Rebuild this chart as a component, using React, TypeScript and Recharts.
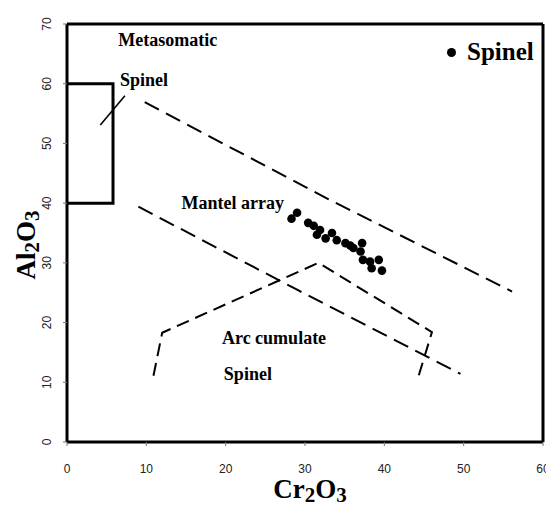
import React from 'react';
import { ScatterChart, Scatter, XAxis, YAxis, ReferenceLine, Legend } from 'recharts';

const xTicks = [0, 10, 20, 30, 40, 50, 60];
const yTicks = [0, 10, 20, 30, 40, 50, 60, 70];

const spinel = [
  { x: 28.3, y: 37.4 }, { x: 29.0, y: 38.4 }, { x: 30.4, y: 36.7 }, { x: 31.1, y: 36.2 },
  { x: 31.9, y: 35.5 }, { x: 31.5, y: 34.7 }, { x: 32.6, y: 34.1 }, { x: 33.4, y: 35.0 },
  { x: 34.0, y: 33.8 }, { x: 35.1, y: 33.3 }, { x: 35.7, y: 32.9 }, { x: 36.1, y: 32.5 },
  { x: 37.2, y: 33.3 }, { x: 37.0, y: 31.9 }, { x: 37.3, y: 30.5 }, { x: 38.2, y: 30.2 },
  { x: 38.4, y: 29.1 }, { x: 39.3, y: 30.5 }, { x: 39.7, y: 28.7 },
];

const upperMantle = [{ x: 9.8, y: 56.9 }, { x: 33.2, y: 40.5 }, { x: 56.1, y: 25.2 }];
const lowerMantle = [{ x: 9.0, y: 39.4 }, { x: 29.0, y: 25.5 }, { x: 49.6, y: 11.4 }];
const arcField = [
  { x: 10.9, y: 11.1 }, { x: 12.0, y: 18.3 }, { x: 31.7, y: 30.0 }, { x: 46.0, y: 18.4 }, { x: 44.1, y: 10.1 },
];
const metaBox = [{ x: 0, y: 60 }, { x: 5.8, y: 60 }, { x: 5.8, y: 40 }, { x: 0, y: 40 }];
const metaSlash = [{ x: 4.2, y: 53.1 }, { x: 7.3, y: 58.0 }];

const notes = [
  { x: 12.7, y: 67.3, text: 'Metasomatic' },
  { x: 9.7, y: 60.6, text: 'Spinel' },
  { x: 20.9, y: 40.0, text: 'Mantel array' },
  { x: 26.1, y: 17.4, text: 'Arc cumulate' },
  { x: 22.8, y: 11.4, text: 'Spinel' },
];

const seriesName = 'Spinel';
const SERIF = '"Liberation Serif", "Times New Roman", serif';
const SANS = '"Liberation Sans", Arial, sans-serif';

const NoMark = () => <g />;

const Dot = (p: any) => <circle cx={p.cx} cy={p.cy} r={4.3} fill="#000" />;

const NoteText = (p: any) => (
  <text x={p.cx} y={p.cy} textAnchor="middle" dominantBaseline="central"
    fontFamily={SERIF} fontWeight="bold" fontSize={18} fill="#000">
    {p.payload.text}
  </text>
);

const XTick = (p: any) => (
  <text x={p.x} y={p.y} dy={21} textAnchor="middle" dominantBaseline="central"
    fontFamily={SANS} fontSize={12} fill="#222">
    {p.payload.value}
  </text>
);

const YTick = (p: any) => {
  const cx = p.x - 14;
  return (
    <text x={cx} y={p.y} textAnchor="middle" dominantBaseline="central"
      transform={`rotate(-90, ${cx}, ${p.y})`} fontFamily={SANS} fontSize={12} fill="#222">
      {p.payload.value}
    </text>
  );
};

const XTitle = (p: any) => {
  const vb = p.viewBox;
  const cx = vb.x + vb.width / 2 + 5;
  const by = vb.y + 56;
  return (
    <text x={cx} y={by} textAnchor="middle" fontFamily={SERIF} fontWeight="bold" fontSize={27} fill="#000">
      <tspan>Cr</tspan>
      <tspan fontSize={21} dy={4}>2</tspan>
      <tspan dy={-4}>O</tspan>
      <tspan fontSize={21} dy={4}>3</tspan>
    </text>
  );
};

const YTitle = (p: any) => {
  const vb = p.viewBox;
  const bx = vb.x + 25;
  const cy = vb.y + vb.height / 2 + 12;
  return (
    <text x={bx} y={cy} textAnchor="middle" transform={`rotate(-90, ${bx}, ${cy})`}
      fontFamily={SERIF} fontWeight="bold" fontSize={27} fill="#000">
      <tspan>Al</tspan>
      <tspan fontSize={21} dy={4}>2</tspan>
      <tspan dy={-4}>O</tspan>
      <tspan fontSize={21} dy={4}>3</tspan>
    </text>
  );
};

const LegendBox = () => (
  <div style={{ display: 'flex', alignItems: 'center', fontFamily: SERIF, fontWeight: 'bold', fontSize: 25, lineHeight: '25px', color: '#000' }}>
    <span style={{ display: 'inline-block', width: 9, height: 9, borderRadius: '50%', background: '#000', marginRight: 11, marginTop: 2 }} />
    <span>{seriesName}</span>
  </div>
);

export default function App() {
  return (
    <div style={{ position: 'absolute', left: 0, top: 0, background: '#fff' }}>
      <ScatterChart width={546} height={507} margin={{ top: 24, right: 3, bottom: 35, left: 10 }}>
        <XAxis type="number" dataKey="x" domain={[0, 60]} ticks={xTicks} interval={0}
          height={30} axisLine={{ stroke: '#000', strokeWidth: 3 }}
          tickLine={{ stroke: '#777' }} tickSize={4} tickMargin={2} tick={<XTick />}
          label={{ content: XTitle } as any} />
        <YAxis type="number" dataKey="y" domain={[0, 70]} ticks={yTicks} interval={0}
          width={57} axisLine={{ stroke: '#000', strokeWidth: 3 }}
          tickLine={{ stroke: '#777' }} tickSize={4} tickMargin={2} tick={<YTick />}
          label={{ content: YTitle } as any} />
        <ReferenceLine y={70} stroke="#000" strokeWidth={3} />
        <ReferenceLine x={60} stroke="#000" strokeWidth={3} />
        <Scatter data={metaBox} shape={NoMark} line={{ stroke: '#000', strokeWidth: 3 }} lineType="joint" legendType="none" isAnimationActive={false} />
        <Scatter data={metaSlash} shape={NoMark} line={{ stroke: '#000', strokeWidth: 1.6 }} lineType="joint" legendType="none" isAnimationActive={false} />
        <Scatter data={upperMantle} shape={NoMark} line={{ stroke: '#000', strokeWidth: 2, strokeDasharray: '16 8' }} lineType="joint" legendType="none" isAnimationActive={false} />
        <Scatter data={lowerMantle} shape={NoMark} line={{ stroke: '#000', strokeWidth: 2, strokeDasharray: '16 8' }} lineType="joint" legendType="none" isAnimationActive={false} />
        <Scatter data={arcField} shape={NoMark} line={{ stroke: '#000', strokeWidth: 2, strokeDasharray: '13 7' }} lineType="joint" legendType="none" isAnimationActive={false} />
        <Scatter data={notes} shape={NoteText} legendType="none" isAnimationActive={false} />
        <Scatter name={seriesName} data={spinel} shape={Dot} fill="#000" isAnimationActive={false} />
        <Legend layout="vertical" align="center" verticalAlign="middle" content={LegendBox}
          wrapperStyle={{ left: 447, top: 39, width: 'auto' }} />
      </ScatterChart>
    </div>
  );
}
